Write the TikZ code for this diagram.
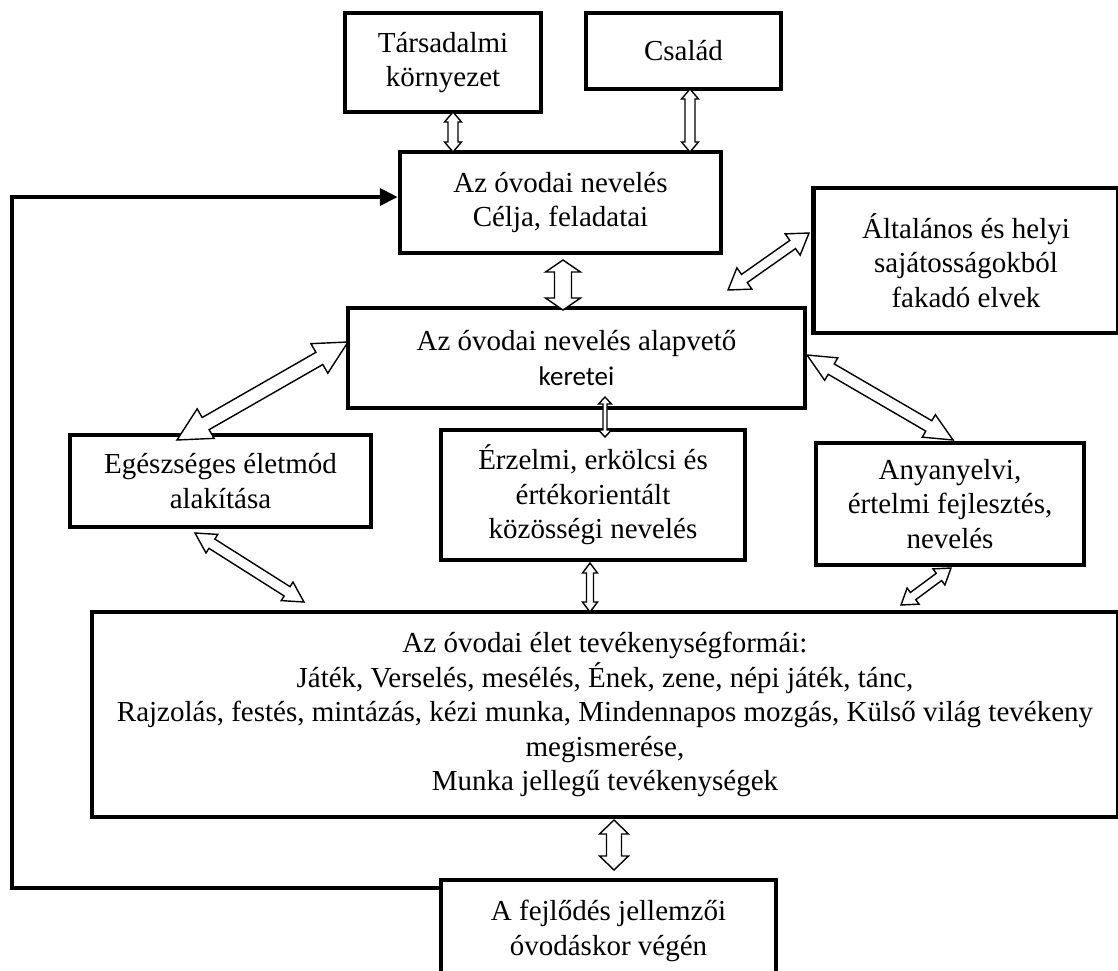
\documentclass[tikz,border=0pt]{standalone}
\usepackage{fontspec}
\setmainfont{Liberation Serif}
\newfontfamily\calfont{Carlito}
\usetikzlibrary{calc,arrows.meta}
% #1 start, #2 end, #3 shaft half width, #4 head half width, #5 head length
\newcommand\blkarrow[5]{%
 \draw[blkarr] (#1)
  -- ($(#1)!#5!(#2)!#4!90:(#2)$)
  -- ($(#1)!#5!(#2)!#3!90:(#2)$)
  -- ($(#2)!#5!(#1)!#3!-90:(#1)$)
  -- ($(#2)!#5!(#1)!#4!-90:(#1)$)
  -- (#2)
  -- ($(#2)!#5!(#1)!#4!90:(#1)$)
  -- ($(#2)!#5!(#1)!#3!90:(#1)$)
  -- ($(#1)!#5!(#2)!#3!-90:(#2)$)
  -- ($(#1)!#5!(#2)!#4!-90:(#2)$)
  -- cycle;}
\tikzset{
  box/.style={draw=black, line width=4.5pt, align=center, inner sep=0pt, fill=white,
    font=\fontsize{29}{34.5}\selectfont},
  blkarr/.style={draw=black, line width=1.4pt, fill=white, line join=miter},
  fb/.style={draw=black, line width=4pt, line join=miter}
}
\begin{document}
\begin{tikzpicture}[x=1pt,y=-1pt]
\fill[white] (0,0) rectangle (1118,970);
\useasboundingbox (0,0) rectangle (1118,970);

\node[box, minimum width=196pt, minimum height=99pt] (tars) at (443,62.5) {Társadalmi\\környezet};
\node[box, minimum width=195pt, minimum height=76pt] (csal) at (683.5,51) {Család};
\node[box, minimum width=321pt, minimum height=101pt] (celja) at (560.5,202.5) {Az óvodai nevelés\\Célja, feladatai};
\node[box, minimum width=305pt, minimum height=145pt] (alt) at (966,260.5) {Általános és helyi\\sajátosságokból\\fakadó elvek};
\node[box, minimum width=457pt, minimum height=100pt] (alap) at (576.5,358) {Az óvodai nevelés alapvető\\{\calfont\fontsize{27}{34.5}\selectfont keretei}};
\node[box, minimum width=301pt, minimum height=92pt] (egesz) at (220.5,481) {Egészséges életmód\\alakítása};
\node[box, minimum width=304pt, minimum height=130pt] (erz) at (593,495) {Érzelmi, erkölcsi és\\értékorientált\\közösségi nevelés};
\node[box, minimum width=268pt, minimum height=122pt] (anya) at (950,504) {Anyanyelvi,\\értelmi fejlesztés,\\nevelés};
\node[box, minimum width=1026pt, minimum height=205pt] (big) at (605,714.5) {Az óvodai élet tevékenységformái:\\Játék, Verselés, mesélés, Ének, zene, népi játék, tánc,\\Rajzolás, festés, mintázás, kézi munka, Mindennapos mozgás, Külső világ tevékeny\\megismerése,\\Munka jellegű tevékenységek};
\node[box, minimum width=335pt, minimum height=102pt] (vegen) at (608.5,931) {A fejlődés jellemzői\\óvodáskor végén};

% arrow end points
\coordinate (a1s) at (453,112);  \coordinate (a1e) at (453,152);
\coordinate (a2s) at (690,89);   \coordinate (a2e) at (690,152);
\coordinate (a3s) at (563,260);  \coordinate (a3e) at (563,310);
\coordinate (a4s) at (809,233);  \coordinate (a4e) at (728,290);
\coordinate (a5s) at (348,342);  \coordinate (a5e) at (177,440);
\coordinate (a6s) at (605,397);  \coordinate (a6e) at (605,437);
\coordinate (a7s) at (807,355);  \coordinate (a7e) at (953,440);
\coordinate (a8s) at (195,533);  \coordinate (a8e) at (304,602);
\coordinate (a9s) at (590,563);  \coordinate (a9e) at (590,612);
\coordinate (a10s) at (951,568); \coordinate (a10e) at (901,605);
\coordinate (a11s) at (614,820); \coordinate (a11e) at (614,870);

\blkarrow{a1s}{a1e}{5pt}{8.5pt}{10pt}
\blkarrow{a2s}{a2e}{5pt}{8.5pt}{10pt}
\blkarrow{a3s}{a3e}{8.5pt}{17.5pt}{12pt}
\blkarrow{a4s}{a4e}{5pt}{13pt}{20pt}
\blkarrow{a5s}{a5e}{7pt}{17pt}{33pt}
\blkarrow{a6s}{a6e}{2pt}{6.5pt}{7pt}
\blkarrow{a7s}{a7e}{6pt}{13pt}{28pt}
\blkarrow{a8s}{a8e}{5.5pt}{11pt}{20pt}
\blkarrow{a9s}{a9e}{3.5pt}{7.5pt}{10pt}
\blkarrow{a10s}{a10e}{4.5pt}{10pt}{15pt}
\blkarrow{a11s}{a11e}{7.5pt}{14.5pt}{14pt}

% feedback loop
\coordinate (fbstart) at (vegen.west |- 0,888);
\coordinate (fbc1) at (12,888);
\coordinate (fbc2) at (12,197);
\coordinate (fbend) at (celja.west |- 0,197);
\draw[fb, -{Triangle[length=18pt,width=17pt]}] (fbstart) -- (fbc1) -- (fbc2) -- (fbend);
\end{tikzpicture}
\end{document}
